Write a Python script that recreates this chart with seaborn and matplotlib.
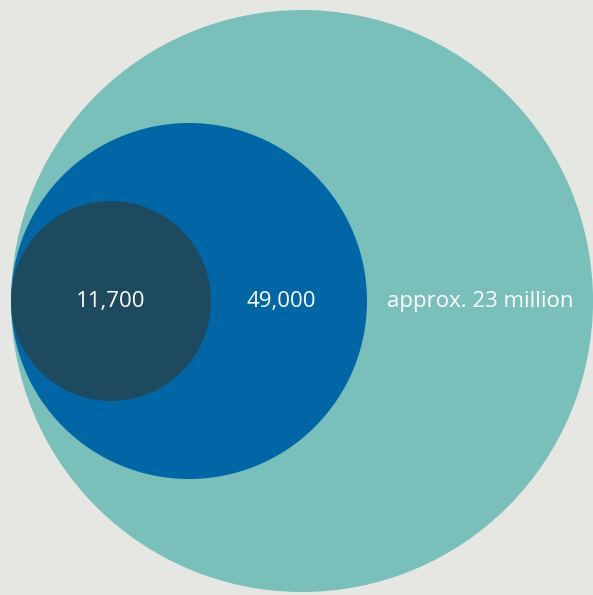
import matplotlib
matplotlib.use('Agg')
import matplotlib.pyplot as plt
from matplotlib.patches import Circle
import seaborn as sns

# Werte (Beschriftungen) und sichtbare Kreisradien aus dem Bild
labels = ['approx. 23 million', '49,000', '11,700']
radii = [291, 178, 100]
colors = ['#78c0b9', '#0066a6', '#1e4a60']
bg = '#e6e6e2'

sns.set_style('white')
plt.rcParams['font.family'] = ['Open Sans', 'DejaVu Sans']

fig = plt.figure(figsize=(5.93, 5.95), dpi=100, facecolor=bg)
ax = fig.add_axes([0, 0, 1, 1])
ax.set_facecolor(bg)

# alle Kreise beruehren sich links bei x=0
for r, c in zip(radii, colors):
    ax.add_patch(Circle((r, 0), r, facecolor=c, edgecolor='none'))

# Beschriftung jeweils mittig im sichtbaren Ring
for i, (lab, r) in enumerate(zip(labels, radii)):
    inner = 2 * radii[i + 1] if i + 1 < len(radii) else 0
    xpos = (inner + 2 * r) / 2
    if i == 1:
        xpos -= 8  # im Original etwas nach links versetzt
    ax.text(xpos, 0, lab, color='white', fontsize=16, ha='center', va='center')

ax.set_xlim(-11, 582)
ax.set_ylim(-294, 301)
ax.set_aspect('equal')
ax.axis('off')

fig.savefig('out.png', dpi=100, facecolor=bg)
